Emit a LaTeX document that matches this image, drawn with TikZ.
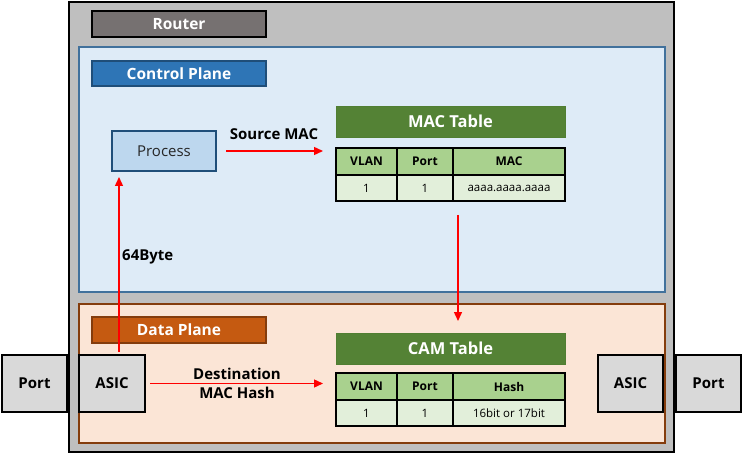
\documentclass[tikz,border=0pt]{standalone}
\usepackage{fontspec}
\setmainfont{Open Sans}
\usetikzlibrary{arrows.meta,calc}
\definecolor{routerfill}{HTML}{BFBFBF}
\definecolor{routerlbl}{HTML}{767171}
\definecolor{cpfill}{HTML}{DEEBF7}
\definecolor{cpborder}{HTML}{41719C}
\definecolor{cplbl}{HTML}{2E75B6}
\definecolor{cplblborder}{HTML}{1F4E79}
\definecolor{procfill}{HTML}{BDD7EE}
\definecolor{dpfill}{HTML}{FBE5D6}
\definecolor{dpborder}{HTML}{843C0C}
\definecolor{dplbl}{HTML}{C55A11}
\definecolor{tblhead}{HTML}{548235}
\definecolor{tblheadborder}{HTML}{507E32}
\definecolor{rowhead}{HTML}{A9D18E}
\definecolor{rowdata}{HTML}{E2EFDA}
\definecolor{grayfill}{HTML}{D9D9D9}
\definecolor{arrred}{HTML}{FF0000}
\begin{document}
\begin{tikzpicture}[x=1pt,y=-1pt,
  box/.style={rectangle, anchor=north west, outer sep=0pt, inner sep=0pt},
  lbl/.style={box, draw=black, line width=1.3pt, text=white,
    font=\fontsize{15.5}{17}\selectfont\bfseries, minimum width=174, minimum height=26},
  hdr/.style={box, fill=tblhead, draw=tblheadborder, line width=0.8pt, text=white,
    font=\fontsize{16.5}{18}\selectfont\bfseries, minimum width=229, minimum height=31},
  cellh/.style={box, fill=rowhead, draw=black, line width=1.3pt,
    font=\fontsize{12}{14}\selectfont\bfseries, minimum height=27},
  celld/.style={box, fill=rowdata, draw=black, line width=1.3pt,
    font=\fontsize{11.5}{13}\selectfont, minimum height=26},
  gbox/.style={box, fill=grayfill, draw=black, line width=1.3pt,
    font=\fontsize{15}{17}\selectfont\bfseries, minimum width=65, minimum height=57},
  arr/.style={draw=arrred, line width=1.4pt, -{Triangle[length=9pt,width=8pt]}},
  albl/.style={font=\fontsize{15}{18.5}\selectfont\bfseries, align=center, inner sep=0pt}
]
\useasboundingbox (0,0) rectangle (743,454);

% Router
\node[box, fill=routerfill, draw=black, line width=1.6pt, minimum width=605, minimum height=450] (router) at (69,2) {};
\node[lbl, fill=routerlbl] (routerlbl) at (92,11) {Router};

% Control plane
\node[box, fill=cpfill, draw=cpborder, line width=1.3pt, minimum width=586, minimum height=245] (cp) at (79,47) {};
\node[lbl, fill=cplbl, draw=cplblborder, minimum height=25] (cplbl) at (92,61) {Control Plane};
\node[box, fill=procfill, draw=cplblborder, line width=1.3pt, minimum width=104, minimum height=40,
  font=\fontsize{15}{17}\selectfont, text=black!85] (proc) at (112,131) {Process};

% MAC table
\node[hdr] (machdr) at (336,106) {MAC Table};
\node[cellh, minimum width=61] (mh1) at (336,148) {VLAN};
\node[cellh, minimum width=56] (mh2) at (397,148) {Port};
\node[cellh, minimum width=112] (mh3) at (453,148) {MAC};
\node[celld, minimum width=61] (md1) at (336,175) {1};
\node[celld, minimum width=56] (md2) at (397,175) {1};
\node[celld, minimum width=112] (md3) at (453,175) {aaaa.aaaa.aaaa};

% Data plane
\node[box, fill=dpfill, draw=dpborder, line width=1.3pt, minimum width=586, minimum height=139] (dp) at (79,304) {};
\node[lbl, fill=dplbl, draw=dpborder] (dplbl) at (92,317) {Data Plane};

% CAM table
\node[hdr] (camhdr) at (336,333) {CAM Table};
\node[cellh, minimum width=61] (ch1) at (336,373) {VLAN};
\node[cellh, minimum width=56] (ch2) at (397,373) {Port};
\node[cellh, minimum width=112] (ch3) at (453,373) {Hash};
\node[celld, minimum width=61] (cd1) at (336,400) {1};
\node[celld, minimum width=56] (cd2) at (397,400) {1};
\node[celld, minimum width=112] (cd3) at (453,400) {16bit or 17bit};

% Ports and ASICs
\node[gbox] (portl) at (2,355) {Port};
\node[gbox, minimum width=66] (asicl) at (79,355) {ASIC};
\node[gbox] (asicr) at (598,355) {ASIC};
\node[gbox] (portr) at (676,355) {Port};

% Arrows
\draw[arr, shorten <=3pt, shorten >=6pt] ($(asicl.north)+(7,0)$) coordinate (a0) -- (a0 |- proc.south);
\node[albl, anchor=west] (lbl64) at (122,257) {64Byte};

\draw[arr, shorten <=10pt, shorten >=13pt] (proc.east) -- (proc.east -| mh1.west);
\node[albl] (lblsrc) at (274,134) {Source MAC};

\coordinate (vtop) at ($(md3.south)+(-51,14)$);
\draw[arr, shorten >=12pt] (vtop) -- (vtop |- camhdr.north);

\draw[arr, shorten <=5pt, shorten >=13pt] (asicl.east) -- (asicl.east -| ch1.west);
\node[albl] (lbldst) at (237,383.5) {Destination\\MAC Hash};
\end{tikzpicture}
\end{document}
